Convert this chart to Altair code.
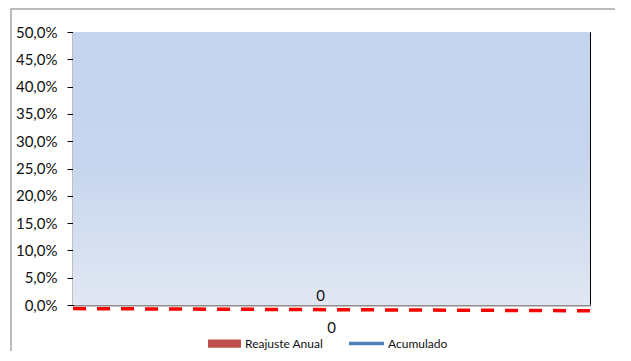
import altair as alt
import pandas as pd

# ---- data ----
categories = ["0"]
reajuste_anual = [0.0]
acumulado = [0.0]
series_bar = ["Reajuste Anual"]
series_line = ["Acumulado"]
trend_x = [0.0, 1.0]
trend_y = [-0.0066, -0.0105]
y_ticks = [0.0, 0.05, 0.10, 0.15, 0.20, 0.25, 0.30, 0.35, 0.40, 0.45, 0.50]

W, H = 517, 273
FONT = "Lato"

main = pd.DataFrame({
    "cat": categories,
    "reajuste": reajuste_anual,
    "acumulado": acumulado,
    "s1": series_bar,
    "s2": series_line,
})
trend = pd.DataFrame({"t": trend_x, "v": trend_y})

yscale = alt.Scale(domain=[0, 0.5], nice=False, zero=False)


def yaxis():
    return alt.Axis(values=y_ticks, grid=False, tickColor="#000", tickSize=6,
                    domainColor="#000", domainWidth=1.5, labelPadding=10,
                    labelOverlap=False,
                    labelExpr="replace(format(datum.value, '.1%'), '.', ',')",
                    labelFont=FONT, labelFontSize=15, labelColor="#111")


frame = alt.Chart(main).mark_rect(
    fill="transparent", stroke="#a6a6a6", strokeWidth=1.5
).encode(
    x=alt.value(-62), x2=alt.value(700), y=alt.value(-23), y2=alt.value(400)
)

bg = alt.Chart(main).mark_rect(
    color=alt.Gradient(
        gradient="linear",
        x1=0, x2=0, y1=0, y2=1,
        stops=[
            alt.GradientStop(offset=0, color="#c5d4ee"),
            alt.GradientStop(offset=0.5, color="#c7d6ee"),
            alt.GradientStop(offset=1, color="#e1e7f3"),
        ],
    )
).encode(x=alt.value(0), x2=alt.value(W), y=alt.value(0), y2=alt.value(H))

bars = alt.Chart(main).mark_bar(size=22).encode(
    x=alt.X("cat:N", sort=categories, title=None,
            axis=alt.Axis(labelAngle=0, ticks=False, labelPadding=15,
                          domainColor="#8c8c8c", domainWidth=2,
                          labelFont=FONT, labelFontSize=15, labelColor="#111")),
    y=alt.Y("reajuste:Q", scale=yscale, title=None, axis=yaxis()),
    fill=alt.Fill("s1:N", scale=alt.Scale(domain=series_bar, range=["#c0504d"]),
                  legend=alt.Legend(title=None, orient="none", legendX=135, legendY=295,
                                    symbolType="M-1,-0.25H1V0.25H-1Z", symbolSize=1089,
                                    symbolStrokeWidth=0, labelFont=FONT, labelFontSize=12,
                                    labelColor="#111", padding=0, labelOffset=4)),
)

line = alt.Chart(main).mark_line(strokeWidth=3).encode(
    x=alt.X("cat:N", sort=categories, axis=None),
    y=alt.Y("acumulado:Q", scale=yscale, title=None, axis=yaxis()),
    stroke=alt.Stroke("s2:N", scale=alt.Scale(domain=series_line, range=["#4f81bd"]),
                      legend=alt.Legend(title=None, orient="none", legendX=274, legendY=292,
                                        symbolType="stroke", symbolSize=1225,
                                        symbolStrokeWidth=3.5, labelFont=FONT, labelFontSize=12,
                                        labelColor="#111", padding=0, labelOffset=2)),
)

labels = alt.Chart(main).mark_text(
    dx=-11, dy=-1, baseline="bottom", font=FONT, fontSize=15, color="#111"
).encode(
    x=alt.X("cat:N", sort=categories, axis=None),
    y=alt.Y("reajuste:Q", scale=yscale, title=None, axis=yaxis()),
    text=alt.Text("reajuste:Q", format="d"),
)

trend_line = alt.Chart(trend).mark_line(
    color="#ff0000", strokeDash=[13, 11], strokeWidth=3.5, clip=False
).encode(
    x=alt.X("t:Q", axis=None, scale=alt.Scale(domain=[0, 1], nice=False, zero=False)),
    y=alt.Y("v:Q", scale=yscale, title=None, axis=yaxis()),
)

chart = alt.layer(frame, bg, bars, line, labels, trend_line).resolve_scale(
    x="independent"
).properties(
    width=W, height=H,
    autosize=alt.AutoSizeParams(type="none"),
    padding={"left": 65, "top": 24, "right": 25, "bottom": 46},
    background="white",
).configure_view(stroke="#000", strokeWidth=1)

chart.save("out.html", embed_options={"renderer": "svg", "actions": False})
